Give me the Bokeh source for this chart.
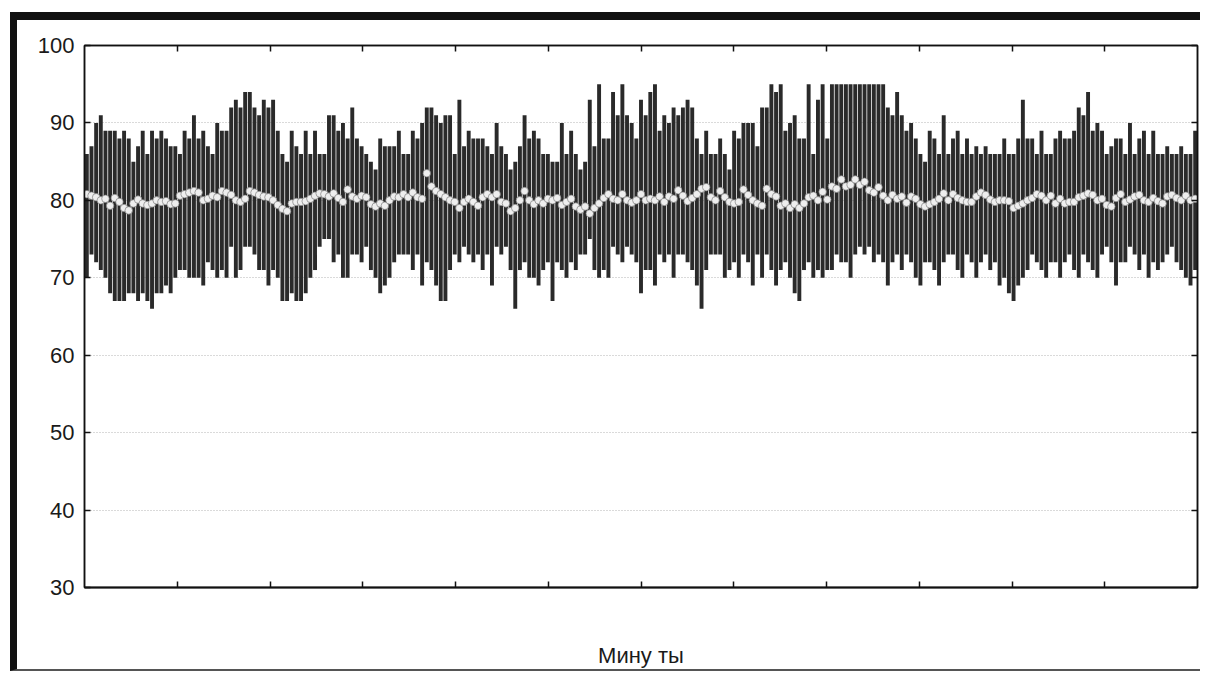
from bokeh.plotting import figure
from bokeh.models import LinearAxis, FixedTicker, CustomJSTickFormatter, ColumnDataSource
from bokeh.embed import file_html
from bokeh.resources import INLINE

# ---- data ----
max_vals = [
    86, 87, 90, 91, 89, 89, 89, 88, 89, 88, 85, 87, 89, 86, 89, 88, 89, 88, 87, 87,
    86, 89, 88, 91, 88, 89, 87, 86, 90, 89, 89, 92, 93, 92, 94, 94, 92, 91, 93, 92,
    93, 89, 86, 85, 89, 87, 86, 89, 86, 89, 86, 86, 91, 91, 89, 90, 88, 92, 88, 87,
    86, 85, 84, 88, 87, 87, 87, 89,
    86, 86, 89, 88, 90, 92, 92, 91, 90, 91, 91, 86, 93, 87, 89, 88, 88, 88, 87, 86,
    90, 87, 86, 84, 85, 87, 91, 88, 89, 88, 86, 86, 85, 85, 90, 86, 89, 86, 84, 85,
    93, 87, 95, 88, 88, 94, 91, 95, 91, 90, 88, 93, 91, 94, 95, 89, 91, 90, 92, 91,
    92, 93, 92, 88, 86, 89, 86, 86, 88, 86, 84, 89, 88, 90, 90, 90, 87, 92, 92, 95,
    94, 95, 89, 90, 91, 88,
    88, 95, 86, 93, 95, 88, 95, 95, 95, 95, 95, 95, 95, 95, 95, 95, 95, 95,
    92, 91, 94, 91, 89, 90, 88, 86, 85, 89, 88, 86, 91, 86, 88, 89, 86, 88, 86, 87,
    86, 87, 86, 86, 86, 88, 86, 86, 88, 93, 88, 88, 86, 89, 86, 86, 88, 89, 88, 88,
    89, 92, 91, 94, 89, 90, 89, 86, 87, 88, 88, 86, 90, 86, 88, 89, 86, 89, 86, 86,
    87, 86, 86, 87, 86, 86, 89,
]
min_vals = [
    70, 73, 72, 71, 70, 68, 67, 67, 67, 68, 68, 67, 68, 67, 66, 68, 68, 69, 68, 70,
    71, 71, 70, 70, 70, 69, 72, 71, 70, 71, 70, 74, 70, 71, 74, 74, 73, 71, 71, 69,
    71, 70, 67, 67, 68, 67, 67, 68, 70, 71, 74, 75, 75, 72, 73, 70, 70, 73, 73, 72,
    74, 71, 70, 68, 69, 70, 72, 73,
    73, 73, 71, 73, 69, 72, 71, 69, 67, 67, 71, 73, 72, 74, 73, 72, 73, 71, 73, 69,
    74, 73, 74, 71, 66, 71, 72, 70, 70, 69, 71, 72, 67, 72, 71, 70, 72, 71, 73, 73,
    75, 71, 70, 71, 70, 74, 73, 72, 74, 73, 72, 68, 71, 71, 69, 73, 72, 73, 70, 73,
    73, 72, 71, 69, 66, 71, 73, 73, 73, 70, 71, 72, 70, 73, 72, 69, 73, 70, 73, 71,
    69, 71, 72, 70, 68, 67,
    71, 72, 70, 71, 70, 71, 71, 73, 72, 72, 70, 73, 74, 73, 74, 72, 73, 72, 69, 72,
    73, 71, 73, 72, 70, 69, 72, 72, 71, 69, 72, 73, 73, 71, 70, 73, 72, 70, 72, 73,
    71, 72, 69, 70, 68, 67, 69, 70, 71, 73, 72, 71, 70, 72, 72, 70, 72, 73, 71, 70,
    73, 72, 71, 70, 73, 74, 72, 69, 72, 72, 74, 73, 71, 73, 70, 72, 71, 72, 73, 74,
    72, 71, 70, 69, 71,
]
mean_vals = [
    80.8, 80.6, 80.4, 80.0, 80.2, 79.3, 80.3, 79.8, 79.0, 78.7, 79.6, 80.1, 79.6, 79.4, 79.6, 80.0, 79.8, 79.9, 79.5, 79.6,
    80.6, 80.8, 81.0, 81.2, 81.0, 80.0, 80.2, 80.6, 80.4, 81.2, 81.0, 80.7, 80.0, 79.8, 80.2, 81.2, 81.0, 80.7, 80.5, 80.4,
    80.0, 79.4, 78.9, 78.6, 79.6, 79.8, 79.8, 79.9, 80.2, 80.6, 80.9, 80.8, 80.5, 80.9, 80.3, 79.8, 81.4, 80.5, 80.2, 80.6,
    80.4, 79.5, 79.2, 79.6, 79.3, 80.0, 80.5, 80.4,
    80.8, 80.4, 81.0, 80.4, 80.2, 83.5, 81.8, 81.2, 80.8, 80.4, 80.0, 79.8, 79.0, 79.8, 80.2, 79.8, 79.3, 80.4, 80.8, 80.4,
    80.8, 79.8, 79.6, 78.6, 79.0, 80.0, 81.2, 80.0, 79.5, 80.0, 79.6, 80.2, 80.0, 80.3, 79.4, 79.8, 80.2, 79.2, 78.8, 79.2,
    78.3, 79.0, 79.6, 80.3, 80.8, 80.2, 80.0, 80.8, 80.0, 79.7, 80.0, 80.8, 80.0, 80.2, 80.0, 80.5, 79.8, 80.5, 80.2, 81.3,
    80.6, 79.9, 80.3, 80.8, 81.5, 81.7, 80.4, 80.0, 81.2, 80.4, 79.8, 79.6, 79.8, 81.4, 80.7, 80.0, 79.6, 79.3, 81.5, 80.8,
    80.5, 79.3, 79.6, 79.0, 79.5, 79.0,
    79.6, 80.4, 80.6, 80.0, 81.1, 80.1, 81.8, 81.5, 82.7, 81.8, 82.0, 82.7, 82.0, 82.4, 81.3, 81.0, 81.7, 80.6, 80.0, 80.7,
    80.2, 80.5, 79.7, 80.5, 80.2, 79.5, 79.2, 79.5, 79.8, 80.2, 80.9, 80.0, 80.8, 80.3, 80.0, 79.8, 79.8, 80.5, 81.0, 80.7,
    80.1, 79.8, 80.0, 80.0, 79.9, 79.0, 79.3, 79.6, 80.0, 80.3, 80.8, 80.6, 80.0, 80.6, 79.6, 80.2, 79.6, 79.8, 79.8, 80.4,
    80.6, 80.9, 80.7, 80.0, 80.2, 79.4, 79.2, 80.3, 80.8, 79.8, 80.1, 80.5, 80.7, 80.0, 79.8, 80.3, 79.9, 79.6, 80.5, 80.7,
    80.3, 80.0, 80.6, 80.0, 80.2,
]
minutes = list(range(len(max_vals)))
y_ticks = [30, 40, 50, 60, 70, 80, 90, 100]
x_label = "Мину ты"

N = len(minutes)
x_ticks = [-0.5 + k * N / 12 for k in range(1, 12)]

src = ColumnDataSource(dict(x=minutes, top=max_vals, bottom=min_vals, mean=mean_vals))

FONT = "Liberation Sans"

p = figure(width=1190, height=659, x_range=(-0.5, N - 0.5), y_range=(30, 100),
           output_backend="svg", toolbar_location=None,
           min_border_left=67, min_border_right=10, min_border_top=25, min_border_bottom=92,
           styles={"margin-left": "10px", "margin-top": "12px",
                   "border-left": "7px solid #111", "border-top": "8px solid #111",
                   "border-bottom": "2px solid #555"})
p.background_fill_color = "white"
p.border_fill_color = "white"
p.outline_line_color = "#111"
p.outline_line_width = 1.5

p.vbar(x="x", top="top", bottom="bottom", width=0.84, source=src,
       fill_color="#2a2a2a", line_color=None)
p.scatter(x="x", y="mean", source=src, marker="circle", size=7.5,
          fill_color="#eeeeee", line_color="#808080", line_width=0.7)

empty = CustomJSTickFormatter(code="return ''")

# left axis
ya = p.yaxis[0]
ya.ticker = FixedTicker(ticks=y_ticks)
ya.major_tick_in = 6
ya.major_tick_out = 0
ya.minor_tick_line_color = None
ya.major_label_standoff = 10
ya.major_label_text_font = FONT
ya.major_label_text_font_size = "22px"
ya.major_label_text_color = "#1a1a1a"
ya.axis_line_color = "#111"
ya.axis_line_width = 1.5
ya.major_tick_line_color = "#111"
ya.major_tick_line_width = 1.5

# bottom axis
xa = p.xaxis[0]
xa.ticker = FixedTicker(ticks=x_ticks)
xa.formatter = empty
xa.major_tick_in = 6
xa.major_tick_out = 0
xa.minor_tick_line_color = None
xa.major_label_standoff = 0
xa.axis_line_color = "#111"
xa.axis_line_width = 2
xa.major_tick_line_color = "#111"
xa.major_tick_line_width = 1.5
xa.axis_label = x_label
xa.axis_label_text_font = FONT
xa.axis_label_text_font_size = "22px"
xa.axis_label_text_font_style = "normal"
xa.axis_label_text_color = "#1a1a1a"
xa.axis_label_standoff = 55

# top axis
ta = LinearAxis(ticker=FixedTicker(ticks=x_ticks), formatter=empty,
                major_tick_in=6, major_tick_out=0, minor_tick_line_color=None,
                major_label_standoff=0, axis_line_color="#111", axis_line_width=1.5,
                major_tick_line_color="#111", major_tick_line_width=1.5)
p.add_layout(ta, "above")

# right axis
ra = LinearAxis(ticker=FixedTicker(ticks=y_ticks), formatter=empty,
                major_tick_in=6, major_tick_out=0, minor_tick_line_color=None,
                major_label_standoff=0, axis_line_color="#111", axis_line_width=1.5,
                major_tick_line_color="#111", major_tick_line_width=1.5)
p.add_layout(ra, "right")

p.xgrid.grid_line_color = None
p.ygrid.ticker = FixedTicker(ticks=y_ticks)
p.ygrid.grid_line_color = "#b5b5b5"
p.ygrid.grid_line_dash = "1 2"
p.ygrid.grid_line_width = 1

open("out.html", "w").write(file_html(p, INLINE))
